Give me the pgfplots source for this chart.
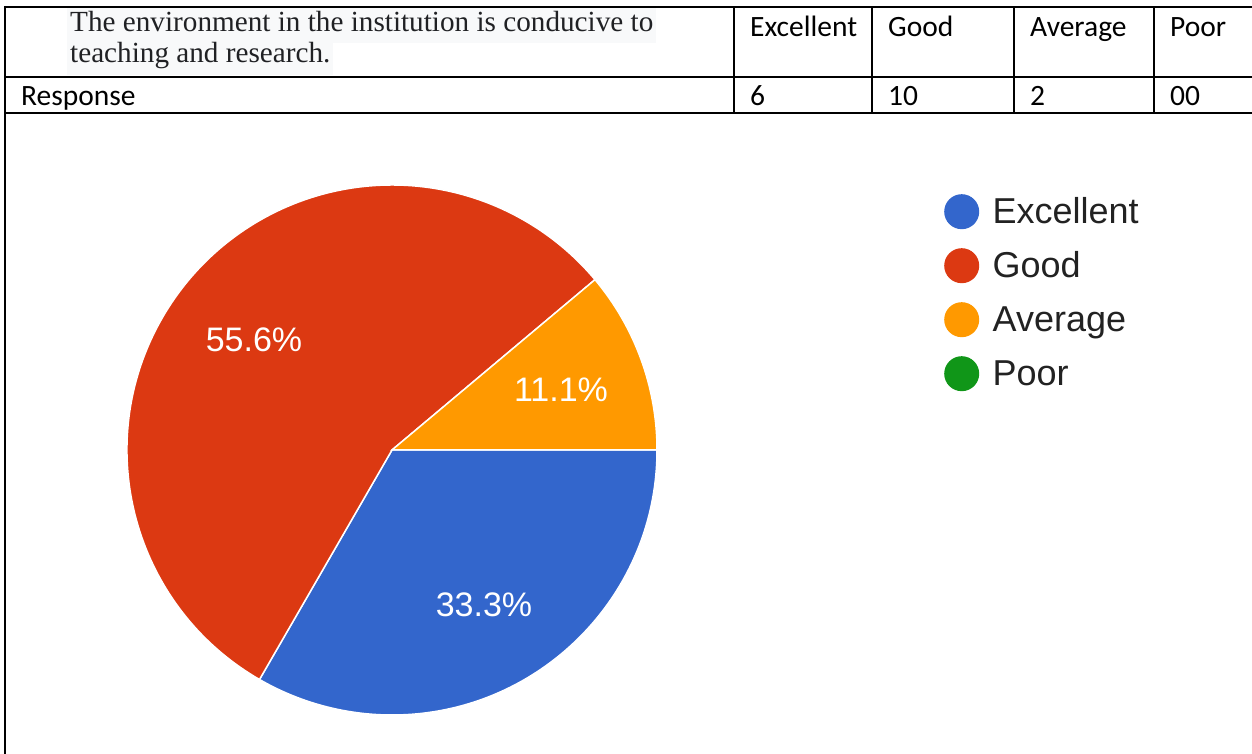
\documentclass[border=0pt]{standalone}
\usepackage{fontspec}
\usepackage{pgfplots}
\pgfplotsset{compat=1.18}
\setmainfont{Liberation Serif}
\newfontfamily\arial{Liberation Sans}
\newfontfamily\calibri{Carlito}
\definecolor{gblue}{HTML}{3366CC}
\definecolor{gred}{HTML}{DC3912}
\definecolor{gorange}{HTML}{FF9900}
\definecolor{ggreen}{HTML}{109618}
\definecolor{hl}{HTML}{F8F9FA}
\definecolor{qtext}{HTML}{202124}
\definecolor{legtext}{HTML}{222222}
\begin{document}
\begin{tikzpicture}[x=1bp,y=1bp]
\useasboundingbox (0,0) rectangle (1252,754);
% question text with highlight
\node[anchor=base west, inner xsep=3bp, inner ysep=0pt, fill=hl, text height=24bp, text depth=11bp, text=qtext, font=\fontsize{29.2bp}{33bp}\selectfont] at (67,722) {The environment in the institution is conducive to};
\node[anchor=base west, inner xsep=3bp, inner ysep=0pt, fill=hl, text height=20bp, text depth=12bp, text=qtext, font=\fontsize{29.2bp}{33bp}\selectfont] at (67,691) {teaching and research.};
% table lines
\begin{scope}[line width=2bp, black]
\draw (4,747) -- (1252,747);
\draw (4,677) -- (1252,677);
\draw (4,641) -- (1252,641);
\draw (5,748) -- (5,0);
\foreach \cx in {734,872,1014,1154} \draw (\cx,747) -- (\cx,641);
\end{scope}
% table texts
\begin{scope}[every node/.style={anchor=base west, inner sep=0pt, font=\calibri\fontsize{29.5bp}{35bp}\selectfont}]
\node at (750,717) {Excellent};
\node at (888,717) {Good};
\node at (1030,717) {Average};
\node at (1170,717) {Poor};
\node at (21,648) {Response};
\node at (750,648) {6};
\node at (888,648) {10};
\node at (1030,648) {2};
\node at (1170,648) {00};
\end{scope}
\begin{axis}[
  at={(392,304)}, anchor=origin,
  x=1bp, y=1bp,
  xmin=-270, xmax=270, ymin=-270, ymax=270,
  hide axis, clip=false,
  legend image code/.code={\path[draw=none,fill=none] (-17.5bp,0bp) -- (29bp,0bp); \fill[#1, draw=none] (0bp,0bp) circle[radius=17.5bp];},
  legend style={at={(axis cs:552,256)}, anchor=north west, draw=none, fill=none,
    inner sep=0pt, row sep=19bp, text=legtext,
    font=\arial\fontsize{36bp}{42bp}\selectfont},
  legend cell align=left,
]
% pie slices from the counts 6, 10, 2, 0 (total 18), clockwise from 3 o'clock
\fill[gblue, draw=white, line width=1.5bp] (axis cs:0,0) -- (axis cs:265,0)
  arc[start angle=0, end angle={-360*6/18}, radius=265bp] -- cycle;
\fill[gred, draw=white, line width=1.5bp] (axis cs:0,0) -- (axis cs:{265*cos(-360*6/18)},{265*sin(-360*6/18)})
  arc[start angle={-360*6/18}, end angle={-360*16/18}, radius=265bp] -- cycle;
\fill[gorange, draw=white, line width=1.5bp] (axis cs:0,0) -- (axis cs:{265*cos(-360*16/18)},{265*sin(-360*16/18)})
  arc[start angle={-360*16/18}, end angle={-360*18/18}, radius=265bp] -- cycle;
\begin{scope}[every node/.style={white, font=\arial\fontsize{34bp}{40bp}\selectfont, inner sep=0pt}]
\node at (axis cs:-138,110) {55.6\%};
\node at (axis cs:169,60) {11.1\%};
\node at (axis cs:92,-155) {33.3\%};
\end{scope}
\addlegendimage{gblue}
\addlegendimage{gred}
\addlegendimage{gorange}
\addlegendimage{ggreen}
\legend{Excellent,Good,Average,Poor}
\end{axis}
\end{tikzpicture}
\end{document}
